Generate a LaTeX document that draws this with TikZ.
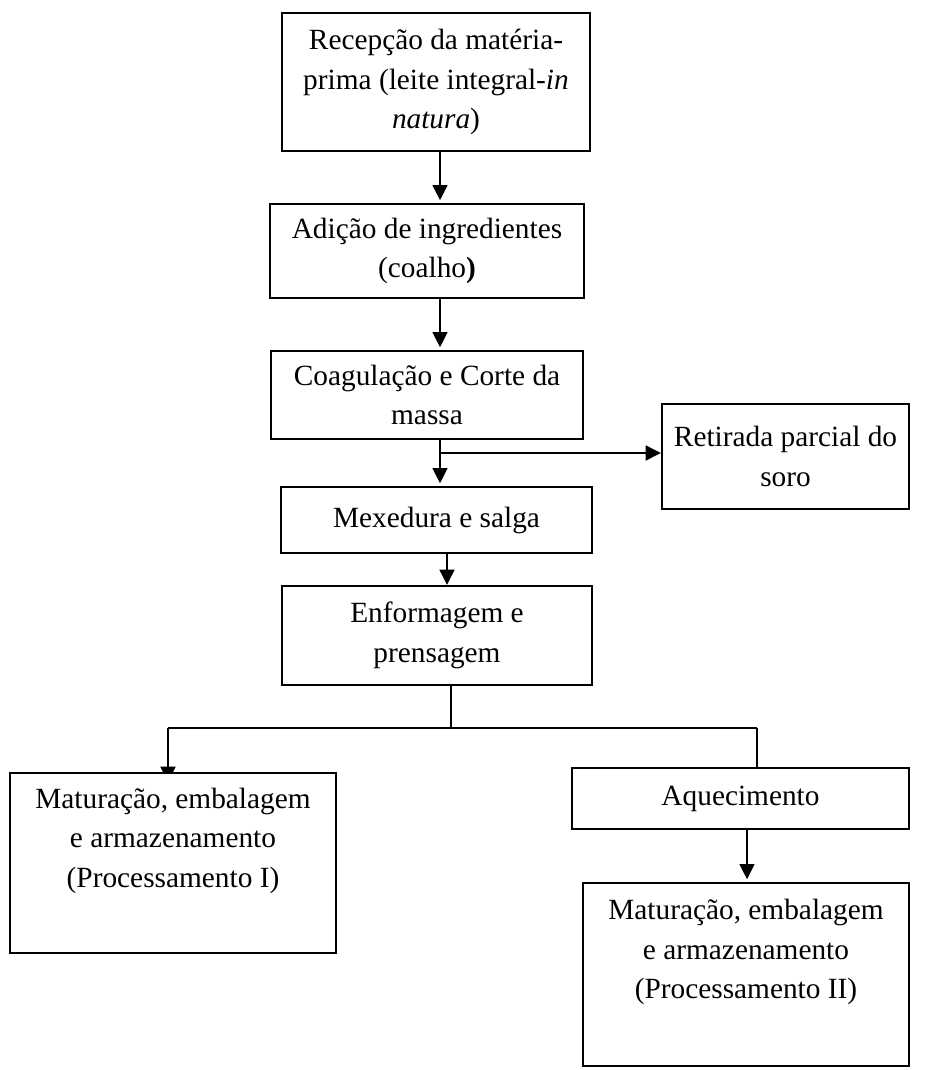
\documentclass[tikz,border=0pt]{standalone}
\usepackage{fontspec}
\setmainfont{Liberation Serif}
\usetikzlibrary{arrows.meta,backgrounds}
\begin{document}
\begin{tikzpicture}[x=0.75pt,y=-0.75pt,
  box/.style={draw,line width=1.5pt,fill=white,inner sep=0pt,align=center,font=\fontsize{22}{29.6}\selectfont},
  arr/.style={line width=1.9pt,-{Triangle[length=11.5pt,width=11pt]}},
  ln/.style={line width=1.7pt},
  thinln/.style={line width=0.9pt}]
\useasboundingbox (0,0) rectangle (950,1070);
\node[box,minimum width=231pt,minimum height=103.5pt] (b1) at (436,82) {Recepção da matéria-\\prima (leite integral-\textit{in}\\\textit{natura})};
\node[box,minimum width=235.5pt,minimum height=70.5pt] (b2) at (427,251) {Adição de ingredientes\\(coalho\textbf{)}};
\node[box,minimum width=234pt,minimum height=66pt] (b3) at (427,395) {Coagulação e Corte da\\massa};
\node[box,minimum width=185.25pt,minimum height=78.75pt] (bs) at (785.5,456.5) {Retirada parcial do\\soro};
\node[box,minimum width=233.25pt,minimum height=49.5pt] (b4) at (436.5,520) {Mexedura e salga};
\node[box,minimum width=232.5pt,minimum height=74.25pt] (b5) at (437,635.5) {Enformagem e\\prensagem};
\node[box,minimum width=244.5pt,minimum height=135pt] (b6) at (173,863) {Maturação, embalagem\\e armazenamento\\(Processamento I)\\\strut};
\node[box,minimum width=252.75pt,minimum height=45.75pt] (b7) at (740.5,798.5) {Aquecimento};
\node[box,minimum width=244.5pt,minimum height=137.25pt] (b8) at (746,974.5) {Maturação, embalagem\\e armazenamento\\(Processamento II)\\\strut};
\coordinate (xa) at (440,0);
\coordinate (x4) at (447,0);
\coordinate (x8) at (747,0);
\coordinate (br) at (440,453);
\coordinate (jc) at (451,728);
\coordinate (jl) at (168,728);
\coordinate (jr) at (757,728);
\path (b6.north -| jl) ++(0,10) coordinate (j6);
\begin{scope}[on background layer]
\draw[arr,shorten >=2pt] (b1.south -| xa) -- (b2.north -| xa);
\draw[arr,shorten >=2pt] (b2.south -| xa) -- (b3.north -| xa);
\draw[arr,shorten >=2pt] (b3.south -| xa) -- (b4.north -| xa);
\draw[arr] (br) -- (br -| bs.west);
\draw[arr] (b4.south -| x4) -- (b5.north -| x4);
\draw[thinln] (b5.south -| jc) -- (jc);
\draw[ln] (jl) -- (jr);
\draw[arr] (jl) -- (j6);
\draw[ln] (jr) -- (b7.north -| jr);
\draw[arr,shorten >=2pt] (b7.south -| x8) -- (b8.north -| x8);
\end{scope}
\end{tikzpicture}
\end{document}
